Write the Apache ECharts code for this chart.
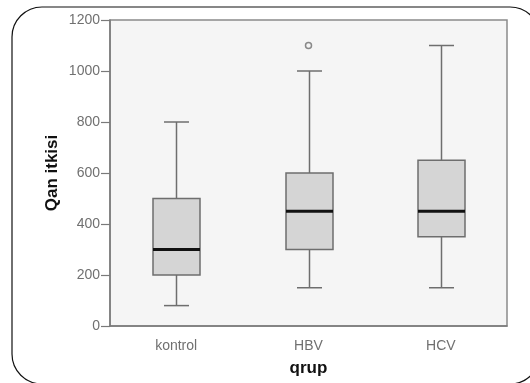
<!DOCTYPE html>
<html>
<head>
<meta charset="utf-8">
<script src="https://cdn.jsdelivr.net/npm/echarts@6/dist/echarts.min.js"></script>
<style>
  html, body { margin: 0; padding: 0; background: #fff; }
  #chart { width: 530px; height: 383px; }
</style>
</head>
<body>
<div id="chart"></div>
<script>
  // kateqoriyalar və qutu dəyərləri (min, Q1, median, Q3, max)
  var groups = ['kontrol', 'HBV', 'HCV'];
  var mins = [80, 150, 150];
  var q1s = [200, 300, 350];
  var medians = [300, 450, 450];
  var q3s = [500, 600, 650];
  var maxs = [800, 1000, 1100];
  // kənar nöqtələr
  var outlierGroups = ['HBV'];
  var outlierValues = [1100];
  var yTicks = [0, 200, 400, 600, 800, 1000, 1200];

  var boxData = groups.map(function(g, i) {
    return [i, mins[i], q1s[i], medians[i], q3s[i], maxs[i]];
  });
  var outlierData = outlierGroups.map(function(g, i) {
    return [g, outlierValues[i]];
  });

  var chart = echarts.init(document.getElementById('chart'));

  function renderBox(params, api) {
    var x = api.value(0);
    var pMin = api.coord([x, api.value(1)]);
    var pQ1 = api.coord([x, api.value(2)]);
    var pMed = api.coord([x, api.value(3)]);
    var pQ3 = api.coord([x, api.value(4)]);
    var pMax = api.coord([x, api.value(5)]);
    var cx = Math.round(pMed[0]) + 0.5;
    var halfBox = 23.5;
    var halfCap = 12.5;
    var lineStyle = { stroke: '#6e6e6e', lineWidth: 1.5, fill: null };
    return {
      type: 'group',
      children: [
        { type: 'line', shape: { x1: cx, y1: pMax[1], x2: cx, y2: pQ3[1] }, style: lineStyle },
        { type: 'line', shape: { x1: cx, y1: pQ1[1], x2: cx, y2: pMin[1] }, style: lineStyle },
        { type: 'line', shape: { x1: cx - halfCap, y1: pMax[1], x2: cx + halfCap, y2: pMax[1] }, style: lineStyle },
        { type: 'line', shape: { x1: cx - halfCap, y1: pMin[1], x2: cx + halfCap, y2: pMin[1] }, style: lineStyle },
        {
          type: 'rect',
          shape: { x: cx - halfBox, y: pQ3[1], width: halfBox * 2, height: pQ1[1] - pQ3[1] },
          style: { fill: '#d5d5d5', stroke: '#6e6e6e', lineWidth: 1.5 }
        },
        { type: 'line', shape: { x1: cx - halfBox, y1: pMed[1], x2: cx + halfBox, y2: pMed[1] }, style: { stroke: '#111', lineWidth: 3 } }
      ]
    };
  }

  var option = {
    animation: false,
    textStyle: { fontFamily: 'Liberation Sans, Arial, sans-serif' },
    graphic: [{
      type: 'rect',
      silent: true,
      z: -10,
      shape: { x: 12, y: 7, width: 528, height: 377, r: 30 },
      style: { fill: null, stroke: '#111', lineWidth: 1.2 }
    }],
    grid: {
      left: 110,
      right: 23,
      top: 20,
      bottom: 57,
      show: true,
      backgroundColor: '#f5f5f5',
      borderColor: '#8a8a8a',
      borderWidth: 1.5
    },
    xAxis: {
      type: 'category',
      data: groups,
      name: 'qrup',
      nameLocation: 'middle',
      nameGap: 34,
      nameMoveOverlap: false,
      nameTextStyle: { fontWeight: 'bold', fontSize: 17, color: '#111' },
      axisLine: { lineStyle: { color: '#7a7a7a', width: 1.5 } },
      axisTick: { alignWithLabel: true, length: 9, lineStyle: { color: '#7a7a7a', width: 1.2 } },
      axisLabel: { color: '#707070', fontSize: 14, margin: 13 },
      splitLine: { show: false }
    },
    yAxis: {
      type: 'value',
      min: yTicks[0],
      max: yTicks[yTicks.length - 1],
      interval: 200,
      name: 'Qan itkisi',
      nameLocation: 'middle',
      nameGap: 49,
      nameMoveOverlap: false,
      nameTextStyle: { fontWeight: 'bold', fontSize: 17, color: '#111' },
      axisLine: { show: true, lineStyle: { color: '#7a7a7a', width: 1.5 } },
      axisTick: { show: true, length: 9, lineStyle: { color: '#7a7a7a', width: 1.2 } },
      axisLabel: {
        color: '#707070',
        fontSize: 14,
        margin: 10,
        formatter: function(v) { return String(v); }
      },
      splitLine: { show: false }
    },
    series: [{
      type: 'custom',
      renderItem: renderBox,
      encode: { x: 0, y: [1, 2, 3, 4, 5] },
      data: boxData,
      silent: true
    }, {
      type: 'scatter',
      symbol: 'circle',
      symbolSize: 6,
      itemStyle: { color: '#f5f5f5', borderColor: '#6e6e6e', borderWidth: 1.5 },
      data: outlierData,
      silent: true
    }]
  };

  chart.setOption(option);
</script>
</body>
</html>
